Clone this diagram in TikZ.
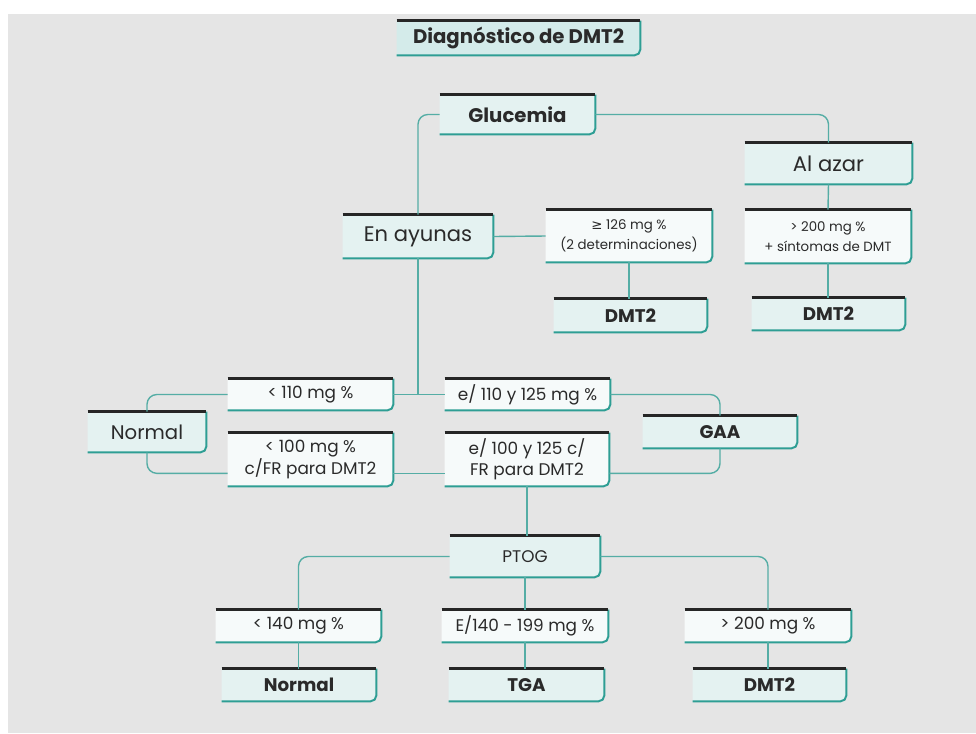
\documentclass[tikz,border=0pt]{standalone}
\usepackage{fontspec}
\setmainfont{Poppins}
\newfontfamily\symfont{DejaVu Sans}
\usepackage{xcolor}
\usepackage{tikz}
\usetikzlibrary{positioning, calc}

\definecolor{pagegrey}{HTML}{E5E5E5}
\definecolor{tealline}{HTML}{2E9E94}
\definecolor{linkteal}{HTML}{55ADA5}
\definecolor{titlefill}{HTML}{D4EBEA}
\definecolor{keyfill}{HTML}{E4F2F1}
\definecolor{valfill}{HTML}{F6FAFA}
\definecolor{inktext}{HTML}{2A2A2A}

\pgfdeclarelayer{back}
\pgfdeclarelayer{boxes}
\pgfsetlayers{back,boxes,main}

\begin{document}
\begin{tikzpicture}[
    x=0.025cm, y=-0.025cm,
    font=\color{inktext},
    sz/.style 2 args={minimum width=#1*0.025cm, minimum height=#2*0.025cm},
    box/.style={rectangle, inner sep=1pt, align=center, text=inktext},
    keybox/.style={box, font=\bfseries\fontsize{13}{15}\selectfont},
    bigbox/.style={box, font=\fontsize{15}{17}\selectfont},
    valbox/.style={box, font=\fontsize{12}{15}\selectfont},
    smallbox/.style={box, font=\fontsize{9.5}{14}\selectfont},
    topline/.style={draw=black!85, line width=2pt},
    edgeline/.style={draw=tealline, line width=1.4pt},
    link/.style={draw=linkteal, line width=1pt, rounded corners=7pt}
]

\useasboundingbox (0,0) rectangle (976,733);
\begin{pgfonlayer}{back}
  \fill[pagegrey] (8,14) rectangle (976,733);
\end{pgfonlayer}

% Nodes
\node (title) [keybox, sz={243}{34}, font=\bfseries\fontsize{14}{16}\selectfont] at (518.5,38) {Diagnóstico de DMT2};
\node (gluc) [keybox, sz={155}{39}, font=\bfseries\fontsize{14}{16}\selectfont] at (517.5,114.5) {Glucemia};
\node (azar) [bigbox, sz={167}{41}] at (828.5,163.5) {Al azar};
\node (ayun) [bigbox, sz={150}{43}] at (418,236.5) {En ayunas};
\node (g126) [smallbox, sz={166}{52}] at (629,236) {{\symfont ≥} 126 mg \%\\(2 determinaciones)};
\node (g200) [smallbox, sz={166}{53}] at (828,236.5) {> 200 mg \%\\+ síntomas de DMT};
\node (dmtA) [keybox, sz={153}{33}] at (630.5,315.5) {DMT2};
\node (dmtB) [keybox, sz={153}{32}] at (828.5,314) {DMT2};

\node (l110) [valbox, sz={165}{31}] at (310.5,394.5) {< 110 mg \%};
\node (e110) [valbox, sz={165}{31}] at (527.5,394.5) {e/ 110 y 125 mg \%};
\node (normA) [bigbox, sz={118}{40}, font=\fontsize{14}{16}\selectfont] at (147,432) {Normal};
\node (gaa) [keybox, sz={154}{32}] at (720,432) {GAA};
\node (l100) [valbox, sz={165}{53}] at (310.5,459.5) {< 100 mg \%\\c/FR para DMT2};
\node (e100) [valbox, sz={164}{53}] at (527,459.5) {e/ 100 y 125 c/\\FR para DMT2};

\node (ptog) [valbox, sz={150}{41}] at (525,556.5) {PTOG};
\node (l140) [valbox, sz={165}{32}] at (298.5,626) {< 140 mg \%};
\node (e140) [valbox, sz={166}{32}] at (525,626) {E/140 - 199 mg \%};
\node (g200b) [valbox, sz={166}{32}] at (768,626) {> 200 mg \%};
\node (normB) [keybox, sz={154}{32}] at (299,685) {Normal};
\node (tga) [keybox, sz={155}{32}] at (526.5,685) {TGA};
\node (dmtC) [keybox, sz={153}{32}] at (769.5,685) {DMT2};

% Box frames
\foreach \n/\f in {title/titlefill, gluc/keyfill, azar/keyfill, ayun/keyfill,
    g126/valfill, g200/valfill, dmtA/keyfill, dmtB/keyfill,
    l110/valfill, e110/valfill, normA/keyfill, gaa/keyfill, l100/valfill, e100/valfill,
    ptog/keyfill, l140/valfill, e140/valfill, g200b/valfill,
    normB/keyfill, tga/keyfill, dmtC/keyfill}{
  \begin{pgfonlayer}{boxes}
    \fill[\f] (\n.north west) -- (\n.north east) -- ([yshift=4pt]\n.south east)
      arc[start angle=0, end angle=-90, radius=4pt] -- (\n.south west) -- cycle;
  \end{pgfonlayer}
  \draw[edgeline] (\n.north east) -- ([yshift=4pt]\n.south east)
    arc[start angle=0, end angle=-90, radius=4pt] -- (\n.south west);
  \draw[topline] (\n.north west) -- (\n.north east);
}

% lower text line of the two-line boxes
\coordinate (l100in) at ([yshift=9.2pt]l100.south west);
\coordinate (l100out) at ([yshift=9.2pt]l100.south east);
\coordinate (e100in) at ([yshift=9.2pt]e100.south west);
\coordinate (e100out) at ([yshift=9.2pt]e100.south east);

% Paths
\draw[link] (gluc.west) -| (ayun.north);
\draw[link] (gluc.east) -| (azar.north);
\draw[link] (azar.south) -- (g200.north);
\draw[link] (g200.south) -- (g200.south |- dmtB.north);
\draw[link] (ayun.east) -- (g126.west);
\draw[link] (g126.south) -- (g126.south |- dmtA.north);

\draw[link] (ayun.south) -- (ayun.south |- l110.east);
\draw[link] (l110.east) -- (e110.west);
\draw[link] (l110.west) -| (normA.north);
\draw[link] (normA.south) |- (l100in);
\draw[link] (l100out) -- (e100in);
\draw[link] (e110.east) -| (gaa.north);
\draw[link] (gaa.south) |- (e100out);

\draw[link] (e100.south) -- (e100.south |- ptog.north);
\draw[link] (ptog.west) -| (l140.north);
\draw[link] (ptog.east) -| (g200b.north);
\draw[link] (ptog.south) -- (e140.north);
\draw[link] (l140.south) -- (l140.south |- normB.north);
\draw[link] (e140.south) -- (e140.south |- tga.north);
\draw[link] (g200b.south) -- (g200b.south |- dmtC.north);

\end{tikzpicture}
\end{document}
